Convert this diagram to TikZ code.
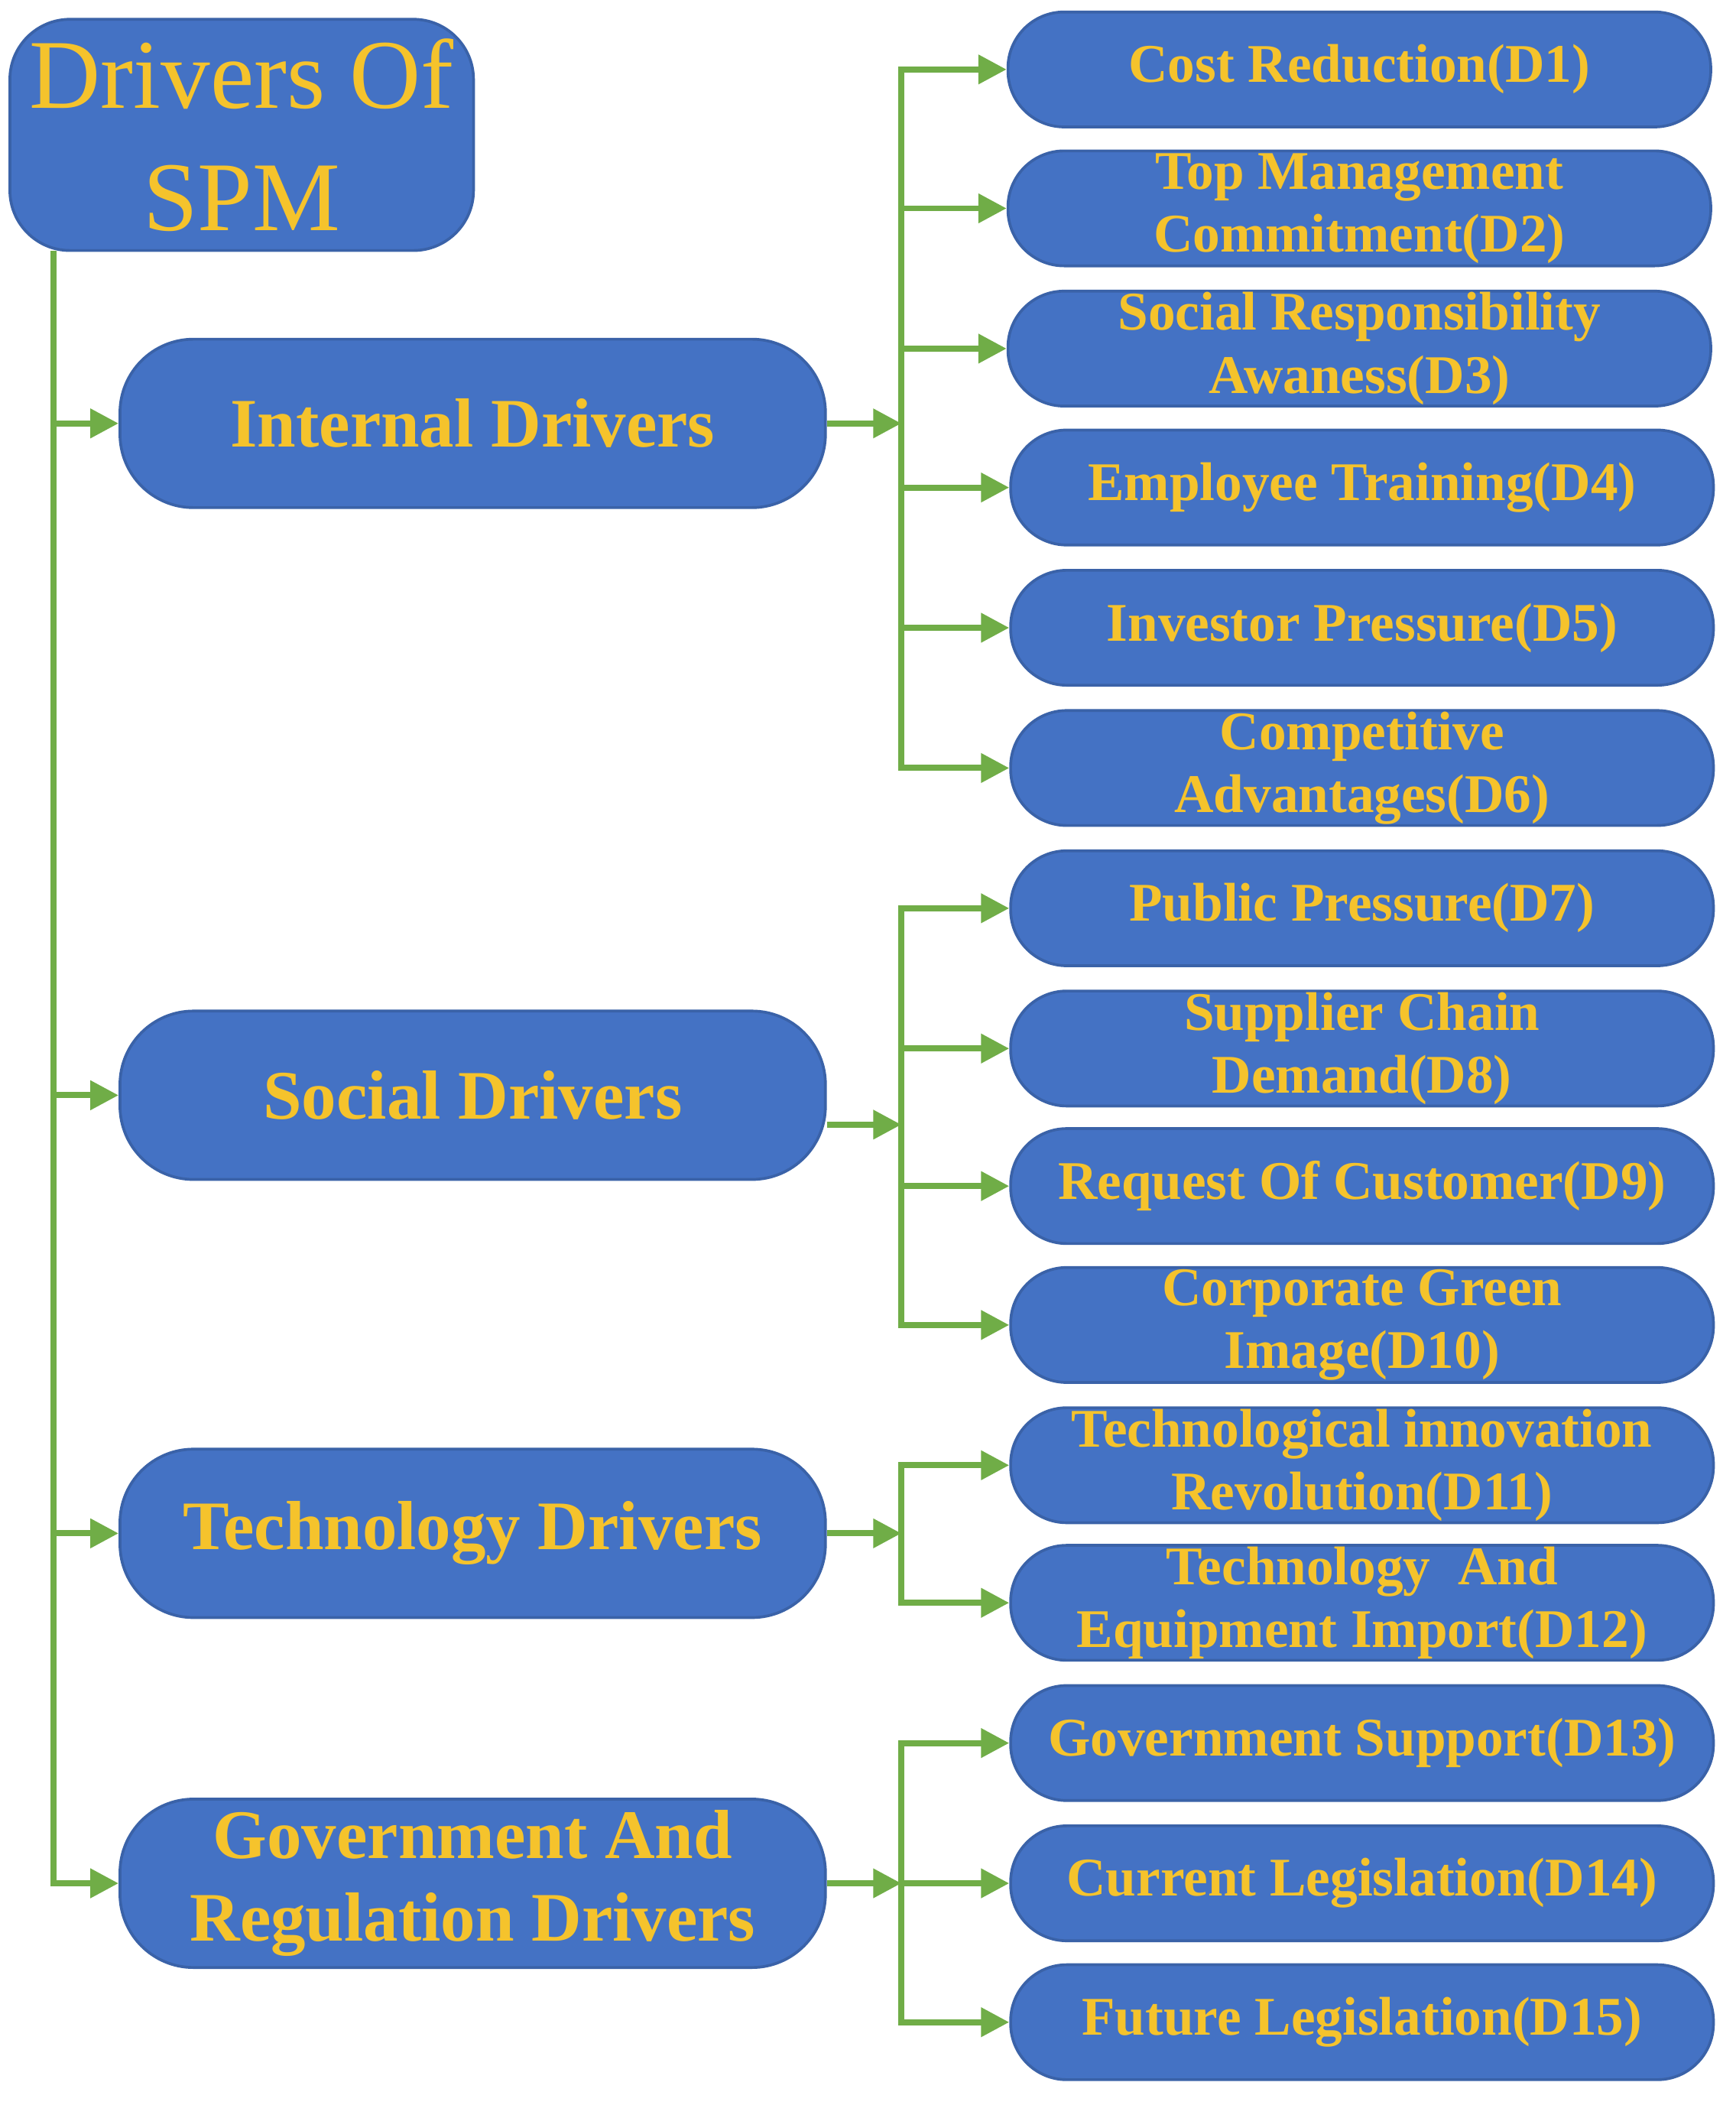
\documentclass[tikz,border=0pt]{standalone}
\usepackage{fontspec}
\setmainfont{Liberation Serif}
\usetikzlibrary{arrows.meta}
\definecolor{bx}{HTML}{4472C4}
\definecolor{bd}{HTML}{3A62A8}
\definecolor{tx}{HTML}{F5C32C}
\definecolor{gl}{HTML}{70AD47}
\begin{document}
\begin{tikzpicture}[x=0.01cm,y=-0.01cm,
  root/.style={fill=bx,draw=bd,line width=0.6pt,rounded corners=0.45cm,minimum width=3.47cm,minimum height=1.73cm,text=tx,font=\fontsize{21}{26}\selectfont,align=center,inner sep=0pt},
  cat/.style={fill=bx,draw=bd,line width=0.6pt,rounded corners=0.55cm,minimum width=5.28cm,minimum height=1.26cm,text=tx,font=\bfseries\fontsize{14.8}{17.5}\selectfont,align=center,inner sep=0pt},
  leaf/.style={fill=bx,draw=bd,line width=0.6pt,rounded corners=0.42cm,minimum width=5.26cm,minimum height=0.86cm,text=tx,font=\bfseries\fontsize{11.6}{13.4}\selectfont,align=center,inner sep=0pt},
  arr/.style={draw=gl,line width=1.3pt,-{Triangle[length=6pt,width=6pt]}},
  ln/.style={draw=gl,line width=1.3pt}]
\useasboundingbox (0,0) rectangle (1300,1576);
\node[root] (root) at (181,101) {Drivers Of\\SPM};
\node[cat] (int) at (354,317) {Internal Drivers};
\node[cat] (soc) at (354,820) {Social Drivers};
\node[cat] (tec) at (354,1148) {Technology Drivers};
\node[cat] (gov) at (354,1410) {Government And\\Regulation Drivers};
\node[leaf] (d1) at (1018,52) {Cost Reduction(D1)};
\node[leaf] (d2) at (1018,156) {Top Management\\Commitment(D2)};
\node[leaf] (d3) at (1018,261) {Social Responsibility\\Awaness(D3)};
\node[leaf] (d4) at (1020,365) {Employee Training(D4)};
\node[leaf] (d5) at (1020,470) {Investor Pressure(D5)};
\node[leaf] (d6) at (1020,575) {Competitive\\Advantages(D6)};
\node[leaf] (d7) at (1020,680) {Public Pressure(D7)};
\node[leaf] (d8) at (1020,785) {Supplier Chain\\Demand(D8)};
\node[leaf] (d9) at (1020,888) {Request Of Customer(D9)};
\node[leaf] (d10) at (1020,992) {Corporate Green\\Image(D10)};
\node[leaf] (d11) at (1020,1097) {Technological innovation\\Revolution(D11)};
\node[leaf] (d12) at (1020,1200) {Technology\ \ And\\Equipment Import(D12)};
\node[leaf] (d13) at (1020,1305) {Government Support(D13)};
\node[leaf] (d14) at (1020,1410) {Current Legislation(D14)};
\node[leaf] (d15) at (1020,1514) {Future Legislation(D15)};
\coordinate (tx) at (40,188);
\draw[ln] (tx) -- (40,1410);
\foreach \c in {int,soc,tec,gov} \draw[arr] (tx) |- (\c.west);
\coordinate (bI) at (675,317);
\coordinate (bS) at (675,842);
\coordinate (bT) at (675,1148);
\coordinate (bG) at (675,1410);
\draw[arr] (int.east) -- (bI);
\draw[arr] (soc.east |- bS) -- (bS);
\draw[arr] (tec.east) -- (bT);
\draw[arr] (gov.east) -- (bG);
\foreach \l in {d1,d2,d3,d4,d5,d6} \draw[arr] (bI) |- (\l.west);
\foreach \l in {d7,d8,d9,d10} \draw[arr] (bS) |- (\l.west);
\foreach \l in {d11,d12} \draw[arr] (bT) |- (\l.west);
\foreach \l in {d13,d14,d15} \draw[arr] (bG) |- (\l.west);
\end{tikzpicture}
\end{document}
